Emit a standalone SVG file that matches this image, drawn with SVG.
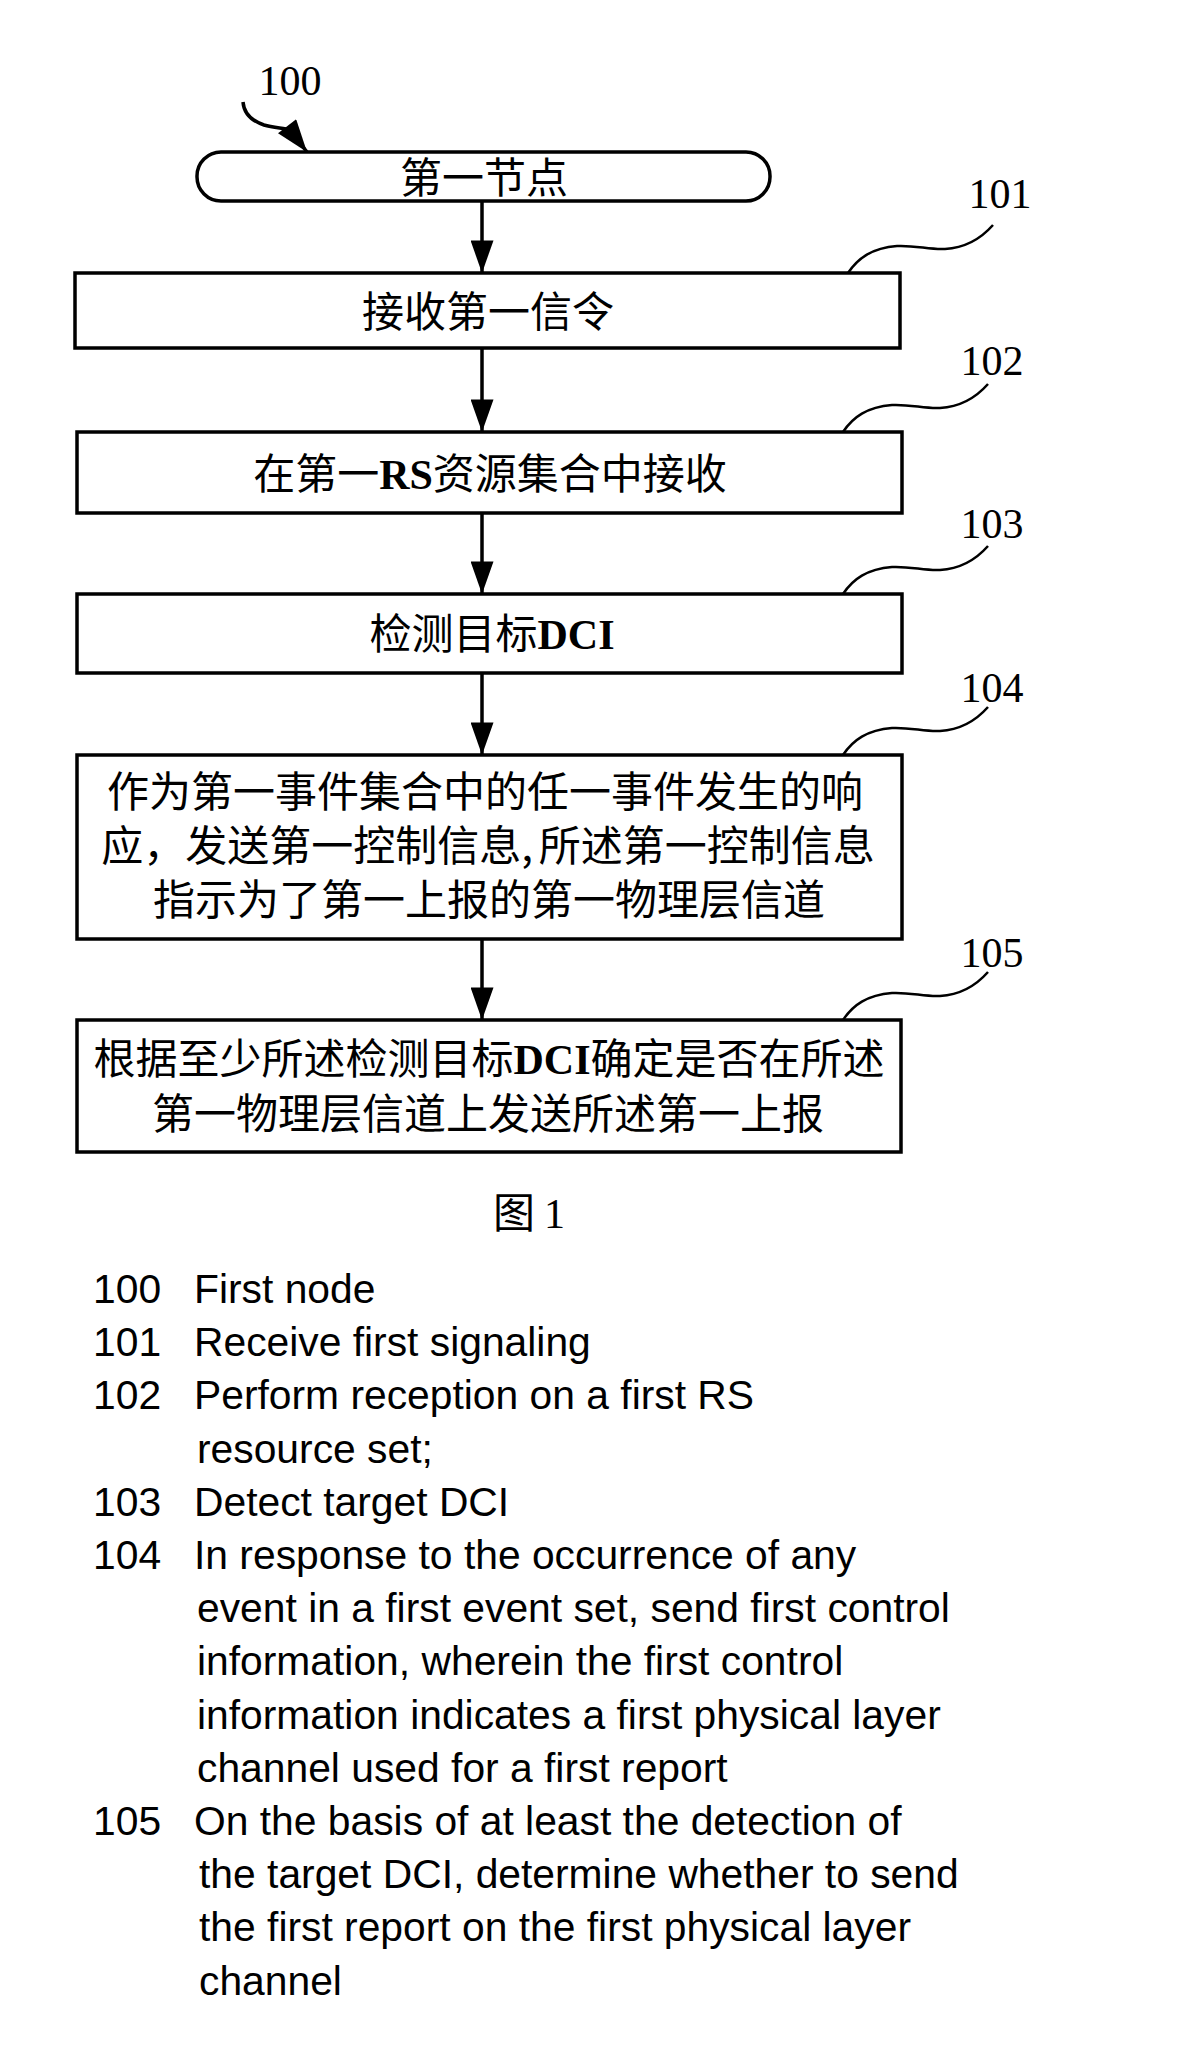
<svg xmlns="http://www.w3.org/2000/svg" width="1179" height="2064" viewBox="0 0 1179 2064">
<style>
.box{fill:#fff;stroke:#000;stroke-width:3.5}
.cjk{font-family:"Noto Sans CJK SC","Noto Sans CJK JP",sans-serif;font-size:42px;fill:#000}
.lat{font-family:"Liberation Serif",serif;font-weight:bold}
.num{font-family:"Liberation Serif",serif;font-size:42px;fill:#000}
.conn{fill:none;stroke:#000;stroke-width:3.5}
.lead{fill:none;stroke:#000;stroke-width:2.5}
.leg{font-family:"Liberation Sans",Arial,sans-serif;font-size:40.8px;fill:#000}
</style>
<defs>
<marker id="ah" viewBox="0 0 34 24" refX="34" refY="12" markerWidth="34" markerHeight="23" markerUnits="userSpaceOnUse" orient="auto">
<path d="M0,0 L34,12 L0,24 z" fill="#000"/>
</marker>
</defs>
<rect width="1179" height="2064" fill="#fff"/>

<g id="n100">
<rect class="box" x="197" y="152" width="573" height="49" rx="24" ry="24"/>
<text class="cjk" x="484" y="193" text-anchor="middle">第一节点</text>
</g>
<g id="n101">
<rect class="box" x="75" y="273" width="825" height="75"/>
<text class="cjk" x="488" y="327" text-anchor="middle">接收第一信令</text>
</g>
<g id="n102">
<rect class="box" x="77" y="432" width="825" height="81"/>
<text class="cjk" x="490" y="489" text-anchor="middle">在第一<tspan class="lat">RS</tspan>资源集合中接收</text>
</g>
<g id="n103">
<rect class="box" x="77" y="594" width="825" height="79"/>
<text class="cjk" x="492" y="649" text-anchor="middle">检测目标<tspan class="lat">DCI</tspan></text>
</g>
<g id="n104">
<rect class="box" x="77" y="755" width="825" height="184"/>
<text class="cjk" x="485" y="807" text-anchor="middle">作为第一事件集合中的任一事件发生的响</text>
<text class="cjk" x="488" y="861" text-anchor="middle">应，发送第一控制信息,<tspan dx="6">所述第一控制信息</tspan></text>
<text class="cjk" x="489" y="915" text-anchor="middle">指示为了第一上报的第一物理层信道</text>
</g>
<g id="n105">
<rect class="box" x="77" y="1020" width="824" height="132"/>
<text class="cjk" x="489" y="1074" text-anchor="middle">根据至少所述检测目标<tspan class="lat">DCI</tspan>确定是否在所述</text>
<text class="cjk" x="488" y="1129" text-anchor="middle">第一物理层信道上发送所述第一上报</text>
</g>

<g id="labels">
<text class="num" x="290" y="95" text-anchor="middle">100</text>
<text class="num" x="1000" y="208" text-anchor="middle">101</text>
<text class="num" x="992" y="375" text-anchor="middle">102</text>
<text class="num" x="992" y="538" text-anchor="middle">103</text>
<text class="num" x="992" y="702" text-anchor="middle">104</text>
<text class="num" x="992" y="967" text-anchor="middle">105</text>
</g>

<g id="connectors">
<path class="conn" d="M243,102 C244,114 252,121 264,125 C274,128 284,128 290,130 L307,152" stroke-width="3" marker-end="url(#ah)"/>
<line class="conn" x1="482" y1="201" x2="482" y2="273" marker-end="url(#ah)"/>
<line class="conn" x1="482" y1="348" x2="482" y2="432" marker-end="url(#ah)"/>
<line class="conn" x1="482" y1="513" x2="482" y2="594" marker-end="url(#ah)"/>
<line class="conn" x1="482" y1="673" x2="482" y2="755" marker-end="url(#ah)"/>
<line class="conn" x1="482" y1="939" x2="482" y2="1020" marker-end="url(#ah)"/>
<path class="lead" d="M848,273 C858,258 872,248 897,246 C915,245 930,250 945,249 C962,248 978,242 993,225"/>
<path class="lead" d="M843,432 C853,417 867,407 892,405 C910,404 925,409 940,408 C957,407 973,401 988,384"/>
<path class="lead" d="M843,594 C853,579 867,569 892,567 C910,566 925,571 940,570 C957,569 973,563 988,546"/>
<path class="lead" d="M843,755 C853,740 867,730 892,728 C910,727 925,732 940,731 C957,730 973,724 988,707"/>
<path class="lead" d="M843,1020 C853,1005 867,995 892,993 C910,992 925,997 940,996 C957,995 973,989 988,972"/>
</g>

<g id="caption">
<text class="cjk" x="493" y="1228" font-size="38">图</text>
<text class="num" x="544" y="1228">1</text>
</g>

<g id="legend" class="leg">
<text class="leg" x="93" y="1303">100</text><text class="leg" x="194" y="1303">First node</text>
<text class="leg" x="93" y="1356">101</text><text class="leg" x="194" y="1356">Receive first signaling</text>
<text class="leg" x="93" y="1409">102</text><text class="leg" x="194" y="1409">Perform reception on a first RS</text>
<text class="leg" x="197" y="1463">resource set;</text>
<text class="leg" x="93" y="1516">103</text><text class="leg" x="194" y="1516">Detect target DCI</text>
<text class="leg" x="93" y="1569">104</text><text class="leg" x="194" y="1569">In response to the occurrence of any</text>
<text class="leg" x="197" y="1622">event in a first event set, send first control</text>
<text class="leg" x="197" y="1675">information, wherein the first control</text>
<text class="leg" x="197" y="1729">information indicates a first physical layer</text>
<text class="leg" x="197" y="1782">channel used for a first report</text>
<text class="leg" x="93" y="1835">105</text><text class="leg" x="194" y="1835">On the basis of at least the detection of</text>
<text class="leg" x="199" y="1888">the target DCI, determine whether to send</text>
<text class="leg" x="199" y="1941">the first report on the first physical layer</text>
<text class="leg" x="199" y="1995">channel</text>
</g>
</svg>
